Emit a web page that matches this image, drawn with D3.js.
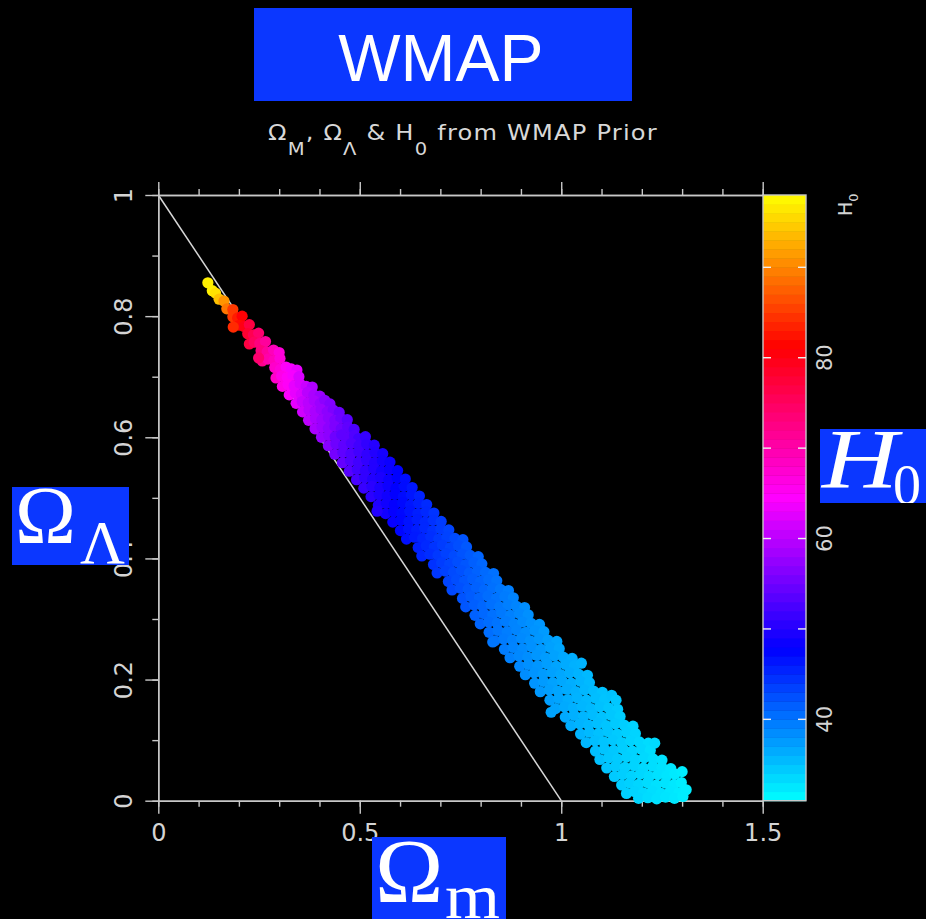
<!DOCTYPE html>
<html>
<head>
<meta charset="utf-8">
<script src="https://cdn.jsdelivr.net/npm/d3@7"></script>
<style>
  html, body { margin: 0; padding: 0; background: #000; }
  svg { display: block; }
</style>
</head>
<body>
<svg id="chart"></svg>
<script>
// axis ticks
const xMajor = [0, 0.5, 1, 1.5];
const xMinor = [0, 0.1, 0.2, 0.3, 0.4, 0.5, 0.6, 0.7, 0.8, 0.9, 1, 1.1, 1.2, 1.3, 1.4, 1.5];
const yMajor = [0, 0.2, 0.4, 0.6, 0.8, 1];
const yMinor = [0, 0.1, 0.2, 0.3, 0.4, 0.5, 0.6, 0.7, 0.8, 0.9, 1];

// colour bar
const h0Range = [31, 98];
const h0Labels = [40, 60, 80];
const h0Ticks = [40, 50, 60, 70, 80, 90];
const h0Stops = [31, 47.75, 64.5, 81.25, 98];
const h0Colors = ['#00ffff', '#0000ff', '#ff00ff', '#ff0000', '#ffff00'];

// Omega_M + Omega_L = 1
const flatLine = [[0, 1], [1, 0]];

// [Omega_M, Omega_Lambda, H0]
const samples = [
  [0.123,0.855,97],
  [0.134,0.842,97],[0.142,0.838,96],
  [0.151,0.828,94],[0.163,0.825,91],
  [0.170,0.812,89],[0.185,0.811,85],
  [0.185,0.799,85],[0.197,0.797,83],[0.208,0.800,81],
  [0.201,0.785,82],[0.213,0.783,80],[0.226,0.786,77],
  [0.222,0.771,78],[0.236,0.769,76],[0.249,0.772,74],
  [0.226,0.754,77],[0.238,0.757,75],[0.252,0.755,73],[0.266,0.758,71],
  [0.255,0.743,73],[0.270,0.741,71],[0.286,0.744,69],[0.300,0.740,67],
  [0.258,0.726,72],[0.272,0.729,70],[0.287,0.727,69],[0.302,0.730,67],
  [0.289,0.715,68],[0.303,0.712,67],[0.317,0.716,65],[0.330,0.713,64],[0.344,0.711,63],
  [0.292,0.698,68],[0.306,0.701,66],[0.320,0.699,65],[0.334,0.702,64],[0.349,0.700,62],
  [0.308,0.684,66],[0.322,0.687,65],[0.337,0.685,63],[0.352,0.688,62],[0.367,0.684,61],[0.382,0.683,59.4],
  [0.325,0.670,64.4],[0.340,0.673,63],[0.355,0.671,62],[0.370,0.674,60],[0.386,0.670,59],[0.401,0.668,58],
  [0.342,0.656,62.8],[0.357,0.659,61],[0.372,0.657,60],[0.387,0.660,59],[0.402,0.656,58],[0.413,0.661,57],[0.426,0.655,56.3],
  [0.358,0.642,61.4],[0.374,0.645,60],[0.389,0.643,59],[0.404,0.646,58],[0.419,0.642,57],[0.434,0.645,56],[0.449,0.641,54.8],
  [0.373,0.628,60.2],[0.390,0.631,59],[0.406,0.629,58],[0.422,0.632,57],[0.438,0.628,56],[0.453,0.631,55],[0.469,0.629,53.6],
  [0.389,0.614,58.9],[0.406,0.617,58],[0.422,0.615,57],[0.438,0.618,56],[0.454,0.614,55],[0.470,0.617,54],[0.486,0.613,52.7],
  [0.405,0.600,57.7],[0.423,0.603,57],[0.439,0.601,55],[0.455,0.604,54],[0.471,0.600,54],[0.487,0.603,53],[0.497,0.598,52],[0.514,0.601,51.2],
  [0.422,0.586,56.6],[0.441,0.589,55],[0.460,0.587,54],[0.479,0.590,53],[0.498,0.586,52],[0.517,0.589,51],[0.536,0.587,50.2],
  [0.438,0.572,55.5],[0.458,0.575,54],[0.478,0.573,53],[0.498,0.576,52],[0.518,0.572,51],[0.538,0.575,50],[0.557,0.573,49.2],
  [0.457,0.558,54.3],[0.477,0.561,53],[0.497,0.559,52],[0.517,0.562,51],[0.537,0.558,50],[0.556,0.561,49],[0.575,0.559,48.5],
  [0.474,0.544,53.4],[0.494,0.547,52],[0.514,0.545,51],[0.534,0.548,50],[0.554,0.544,49],[0.574,0.547,48.5],[0.594,0.545,47.7],
  [0.492,0.530,52.4],[0.512,0.533,51],[0.532,0.531,50],[0.552,0.534,49.5],[0.572,0.530,48.6],[0.593,0.533,47.7],[0.613,0.531,46.9],
  [0.510,0.516,51.4],[0.530,0.519,50.5],[0.550,0.517,49.5],[0.570,0.520,48.7],[0.590,0.516,47.8],[0.610,0.519,47],[0.630,0.517,46.3],
  [0.528,0.502,50.6],[0.548,0.505,49.6],[0.568,0.503,48.8],[0.588,0.506,47.9],[0.608,0.502,47.1],[0.628,0.505,46.4],[0.648,0.503,45.6],
  [0.546,0.488,49.7],[0.566,0.491,48.8],[0.586,0.489,48],[0.606,0.492,47.2],[0.626,0.488,46.4],[0.646,0.491,45.7],[0.666,0.489,45],
  [0.564,0.474,48.9],[0.584,0.477,48.1],[0.604,0.475,47.3],[0.624,0.478,46.5],[0.644,0.474,45.8],[0.664,0.477,45.1],[0.684,0.475,44.4],
  [0.582,0.460,48.2],[0.602,0.463,47.4],[0.622,0.461,46.6],[0.642,0.464,45.9],[0.662,0.460,45.2],[0.682,0.463,44.5],[0.702,0.461,43.9],
  [0.601,0.446,47.4],[0.621,0.449,46.6],[0.641,0.447,45.9],[0.661,0.450,45.2],[0.681,0.446,44.5],[0.701,0.449,43.9],[0.721,0.447,43.3],
  [0.616,0.432,46.8],[0.636,0.435,46.1],[0.656,0.433,45.4],[0.676,0.436,44.7],[0.696,0.432,44],[0.716,0.435,43.4],[0.736,0.433,42.8],[0.756,0.431,42.3],
  [0.645,0.418,45.7],[0.665,0.421,45.1],[0.685,0.419,44.4],[0.705,0.422,43.8],[0.725,0.418,43.2],[0.745,0.421,42.6],[0.765,0.419,42],
  [0.654,0.404,45.4],[0.674,0.407,44.8],[0.694,0.405,44.1],[0.714,0.408,43.5],[0.734,0.404,42.9],[0.754,0.407,42.3],[0.774,0.405,41.8],[0.794,0.403,41.2],
  [0.683,0.390,44.5],[0.703,0.393,43.8],[0.723,0.391,43.2],[0.743,0.394,42.6],[0.763,0.390,42.1],[0.783,0.393,41.5],[0.803,0.391,41],
  [0.692,0.376,44.2],[0.712,0.379,43.5],[0.732,0.377,42.9],[0.752,0.380,42.4],[0.772,0.376,41.8],[0.792,0.379,41.3],[0.812,0.377,40.8],[0.832,0.375,40.3],
  [0.720,0.362,43.3],[0.740,0.365,42.7],[0.760,0.363,42.1],[0.780,0.366,41.6],[0.800,0.362,41.1],[0.820,0.365,40.6],[0.840,0.363,40.1],
  [0.729,0.348,43],[0.749,0.351,42.5],[0.769,0.349,41.9],[0.789,0.352,41.4],[0.809,0.348,40.9],[0.829,0.351,40.4],[0.849,0.349,39.9],[0.869,0.347,39.4],
  [0.755,0.334,42.3],[0.776,0.337,41.7],[0.797,0.335,41.2],[0.818,0.338,40.6],[0.839,0.334,40.1],[0.860,0.337,39.6],[0.881,0.335,39.1],
  [0.763,0.320,42.1],[0.784,0.323,41.5],[0.805,0.321,41],[0.826,0.324,40.4],[0.847,0.320,39.9],[0.868,0.323,39.4],[0.889,0.321,39],[0.909,0.319,38.5],
  [0.786,0.306,41.4],[0.808,0.309,40.9],[0.830,0.307,40.3],[0.852,0.310,39.8],[0.874,0.306,39.3],[0.896,0.309,38.8],[0.918,0.307,38.3],
  [0.799,0.292,41.1],[0.820,0.295,40.6],[0.841,0.293,40.1],[0.862,0.296,39.6],[0.883,0.292,39.1],[0.904,0.295,38.6],[0.925,0.293,38.2],[0.946,0.291,37.8],
  [0.821,0.278,40.5],[0.843,0.281,40],[0.866,0.279,39.5],[0.889,0.282,39],[0.912,0.278,38.5],[0.935,0.281,38],[0.957,0.279,37.6],
  [0.835,0.264,40.2],[0.857,0.267,39.7],[0.879,0.265,39.2],[0.901,0.268,38.7],[0.923,0.264,38.2],[0.945,0.267,37.8],[0.967,0.265,37.4],[0.989,0.263,36.9],
  [0.859,0.250,39.6],[0.881,0.253,39.1],[0.904,0.251,38.6],[0.927,0.254,38.2],[0.950,0.250,37.7],[0.973,0.253,37.2],[0.995,0.251,36.8],
  [0.873,0.236,39.3],[0.895,0.239,38.8],[0.917,0.237,38.4],[0.939,0.240,37.9],[0.961,0.236,37.5],[0.983,0.239,37.1],[1.005,0.237,36.7],[1.027,0.235,36.3],
  [0.897,0.222,38.8],[0.919,0.225,38.3],[0.942,0.223,37.9],[0.965,0.226,37.4],[0.988,0.222,37],[1.011,0.225,36.5],[1.033,0.223,36.1],
  [0.911,0.208,38.5],[0.933,0.211,38],[0.955,0.209,37.6],[0.977,0.212,37.2],[0.999,0.208,36.8],[1.021,0.211,36.4],[1.043,0.209,36],[1.065,0.207,35.6],
  [0.934,0.194,38],[0.956,0.197,37.6],[0.979,0.195,37.1],[1.002,0.198,36.7],[1.025,0.194,36.3],[1.048,0.197,35.9],[1.070,0.195,35.5],
  [0.948,0.180,37.7],[0.970,0.183,37.3],[0.992,0.181,36.9],[1.014,0.184,36.5],[1.036,0.180,36.1],[1.058,0.183,35.7],[1.080,0.181,35.4],[1.102,0.179,35],
  [0.972,0.166,37.3],[0.994,0.169,36.9],[1.017,0.167,36.4],[1.040,0.170,36],[1.063,0.166,35.6],[1.086,0.169,35.3],[1.108,0.167,34.9],
  [0.986,0.152,37],[1.008,0.155,36.6],[1.030,0.153,36.2],[1.052,0.156,35.8],[1.074,0.152,35.5],[1.096,0.155,35.1],[1.118,0.153,34.7],[1.140,0.151,34.4],
  [1.010,0.138,36.6],[1.032,0.141,36.2],[1.055,0.139,35.8],[1.078,0.142,35.4],[1.101,0.138,35],[1.124,0.141,34.7],[1.146,0.139,34.3],
  [1.024,0.124,36.3],[1.046,0.127,35.9],[1.068,0.125,35.6],[1.090,0.128,35.2],[1.112,0.124,34.8],[1.134,0.127,34.5],[1.156,0.125,34.2],[1.178,0.123,33.9],
  [1.048,0.110,35.9],[1.070,0.113,35.5],[1.093,0.111,35.1],[1.116,0.114,34.8],[1.139,0.110,34.4],[1.162,0.113,34.1],[1.184,0.111,33.8],
  [1.062,0.096,35.7],[1.084,0.099,35.3],[1.106,0.097,34.9],[1.128,0.100,34.6],[1.150,0.096,34.3],[1.172,0.099,33.9],[1.194,0.097,33.6],[1.216,0.095,33.3],
  [1.085,0.082,35.3],[1.107,0.085,34.9],[1.130,0.083,34.6],[1.153,0.086,34.2],[1.176,0.082,33.9],[1.199,0.085,33.6],[1.221,0.083,33.2],
  [1.096,0.068,35.1],[1.118,0.071,34.7],[1.140,0.069,34.4],[1.162,0.072,34.1],[1.184,0.068,33.8],[1.206,0.071,33.5],[1.228,0.069,33.2],[1.250,0.067,32.9],
  [1.113,0.054,34.8],[1.135,0.057,34.5],[1.158,0.055,34.1],[1.181,0.058,33.8],[1.204,0.054,33.5],[1.227,0.057,33.2],[1.250,0.055,32.9],[1.272,0.053,32.6],
  [1.132,0.040,34.5],[1.152,0.043,34.2],[1.174,0.041,33.9],[1.196,0.044,33.6],[1.218,0.040,33.3],[1.240,0.043,33],[1.262,0.041,32.7],[1.282,0.044,32.4],
  [1.150,0.026,34.3],[1.170,0.029,34],[1.192,0.027,33.7],[1.214,0.030,33.3],[1.236,0.026,33],[1.258,0.029,32.8],[1.280,0.027,32.5],[1.298,0.030,32.2],
  [1.162,0.012,34.1],[1.182,0.015,33.8],[1.204,0.013,33.5],[1.226,0.016,33.2],[1.248,0.012,32.9],[1.270,0.015,32.6],[1.292,0.013,32.3],[1.310,0.018,32.1],
  [1.192,0.004,33.7],[1.215,0.005,33.3],[1.237,0.003,33],[1.259,0.006,32.7],[1.281,0.004,32.5],[1.302,0.007,32.2],
  // stray points off the main ridge
  [0.186,0.782,84],[0.249,0.731,74],[0.543,0.478,50],[0.830,0.262,40],[0.975,0.146,37],
  [1.050,0.227,36],[1.125,0.174,35],[1.136,0.166,34.7],[1.232,0.095,33.4],[1.300,0.048,32.2]
];

const W = 926, H = 919;
const svg = d3.select('#chart').attr('width', W).attr('height', H);
svg.append('rect').attr('width', W).attr('height', H).attr('fill', '#000');

const x = d3.scaleLinear().domain([0, 1.5]).range([158.3, 762.7]);
const y = d3.scaleLinear().domain([0, 1]).range([800.7, 195]);
const cy = d3.scaleLinear().domain(h0Range).range([800.7, 195]);
const color = d3.scaleLinear().domain(h0Stops).range(h0Colors).clamp(true);

const axisColor = '#c8c8c8';
const labelFont = '"DejaVu Sans", sans-serif';

function styleAxis(g) {
    g.selectAll('path.domain').attr('stroke', axisColor).attr('stroke-width', 1.4);
    g.selectAll('.tick line').attr('stroke', axisColor).attr('stroke-width', 1.4);
    g.selectAll('text').attr('fill', '#d4d4d4').style('font-family', labelFont).style('font-size', '24px');
}

// flat-universe line, under the points
svg.append('path')
    .datum(flatLine)
    .attr('d', d3.line().x(d => x(d[0])).y(d => y(d[1])))
    .attr('stroke', '#d8d8d8')
    .attr('stroke-width', 1.5)
    .attr('fill', 'none');

// bottom axis
svg.append('g').attr('transform', `translate(0,${y(0)})`)
    .call(d3.axisBottom(x).tickValues(xMinor).tickSize(6).tickSizeOuter(0).tickFormat(''))
    .call(styleAxis);
svg.append('g').attr('transform', `translate(0,${y(0)})`)
    .call(d3.axisBottom(x).tickValues(xMajor).tickSize(13).tickSizeOuter(0).tickPadding(10).tickFormat(d3.format('~g')))
    .call(styleAxis);

// top axis
svg.append('g').attr('transform', `translate(0,${y(1)})`)
    .call(d3.axisTop(x).tickValues(xMinor).tickSize(6).tickSizeOuter(0).tickFormat(''))
    .call(styleAxis);
svg.append('g').attr('transform', `translate(0,${y(1)})`)
    .call(d3.axisTop(x).tickValues(xMajor).tickSize(13).tickSizeOuter(0).tickFormat(''))
    .call(styleAxis);

// left axis, labels turned to read upwards
svg.append('g').attr('transform', `translate(${x(0)},0)`)
    .call(d3.axisLeft(y).tickValues(yMinor).tickSize(6).tickSizeOuter(0).tickFormat(''))
    .call(styleAxis);
svg.append('g').attr('transform', `translate(${x(0)},0)`)
    .call(d3.axisLeft(y).tickValues(yMajor).tickSize(13).tickSizeOuter(0).tickFormat(d3.format('~g')))
    .call(styleAxis)
    .call(g => g.selectAll('text')
        .attr('x', 0).attr('dy', null)
        .attr('text-anchor', 'middle')
        .attr('transform', 'translate(-26,0) rotate(-90)'));

// the samples
svg.append('g')
    .selectAll('circle')
    .data(samples)
    .enter()
    .append('circle')
    .attr('cx', d => x(d[0]))
    .attr('cy', d => y(d[1]))
    .attr('r', 5.6)
    .attr('fill', d => color(d[2]));

// colour bar
const barX = 763, barW = 43;
const steps = d3.range(h0Range[0], h0Range[1], 1);
svg.append('g')
    .selectAll('rect')
    .data(steps)
    .enter()
    .append('rect')
    .attr('x', barX)
    .attr('width', barW)
    .attr('y', d => cy(Math.min(d + 1, h0Range[1])))
    .attr('height', d => cy(d) - cy(Math.min(d + 1, h0Range[1])) + 0.5)
    .attr('fill', d => color(d + 0.5));
svg.append('rect')
    .attr('x', barX).attr('y', cy(h0Range[1]))
    .attr('width', barW).attr('height', cy(h0Range[0]) - cy(h0Range[1]))
    .attr('fill', 'none').attr('stroke', axisColor).attr('stroke-width', 1.4);

const barTicks = svg.append('g');
h0Ticks.forEach(v => {
    barTicks.append('line').attr('x1', barX).attr('x2', barX + 8).attr('y1', cy(v)).attr('y2', cy(v))
        .attr('stroke', '#eee').attr('stroke-width', 1.4);
    barTicks.append('line').attr('x1', barX + barW - 8).attr('x2', barX + barW).attr('y1', cy(v)).attr('y2', cy(v))
        .attr('stroke', '#eee').attr('stroke-width', 1.4);
});
svg.append('g')
    .selectAll('text')
    .data(h0Labels)
    .enter()
    .append('text')
    .attr('transform', d => `translate(832,${cy(d)}) rotate(-90)`)
    .attr('text-anchor', 'middle')
    .attr('fill', '#d4d4d4')
    .style('font-family', labelFont)
    .style('font-size', '21px')
    .text(d => d);

const barTitle = svg.append('text')
    .attr('transform', 'translate(852,216) rotate(-90)')
    .attr('fill', '#d4d4d4')
    .style('font-family', labelFont)
    .style('font-size', '19px');
barTitle.append('tspan').text('H');
barTitle.append('tspan').attr('dy', 6).style('font-size', '13px').text('0');

// subtitle, stretched a little to mimic the wide plotting font
const sub = svg.append('text')
    .attr('transform', 'translate(268,140) scale(1.15,1)')
    .attr('textLength', 338)
    .attr('lengthAdjust', 'spacing')
    .attr('fill', '#d8d8d8')
    .style('font-family', labelFont)
    .style('font-size', '21px');
sub.append('tspan').text('\u03A9');
sub.append('tspan').attr('dy', 15).style('font-size', '17px').text('M');
sub.append('tspan').attr('dy', -15).text(', \u03A9');
sub.append('tspan').attr('dy', 15).style('font-size', '17px').text('\u039B');
sub.append('tspan').attr('dy', -15).text(' & H');
sub.append('tspan').attr('dy', 15).style('font-size', '17px').text('0');
sub.append('tspan').attr('dy', -15).text(' from WMAP Prior');

// blue label boxes pasted over the plot
const boxBlue = '#0b37ff';
const serif = '"Liberation Serif", "DejaVu Serif", serif';

function labelBox(id, bx, by, bw, bh) {
    svg.append('clipPath').attr('id', id)
        .append('rect').attr('x', bx).attr('y', by).attr('width', bw).attr('height', bh);
    const g = svg.append('g').attr('clip-path', `url(#${id})`);
    g.append('rect').attr('x', bx).attr('y', by).attr('width', bw).attr('height', bh).attr('fill', boxBlue);
    return g;
}

labelBox('clip-wmap', 254, 8, 378, 93)
    .append('text')
    .attr('x', 441).attr('y', 81)
    .attr('text-anchor', 'middle')
    .attr('fill', '#fff')
    .style('font-family', '"Liberation Sans", Arial, sans-serif')
    .style('font-size', '66px')
    .text('WMAP');

const bL = labelBox('clip-ol', 12, 487, 117, 78);
bL.append('text').attr('x', 15).attr('y', 543).attr('fill', '#fff')
    .style('font-family', serif).style('font-size', '82px').text('\u03A9');
bL.append('text').attr('x', 80).attr('y', 563).attr('fill', '#fff')
    .style('font-family', serif).style('font-size', '62px').text('\u039B');

const bM = labelBox('clip-om', 372, 837, 134, 82);
bM.append('text').attr('x', 375).attr('y', 902).attr('fill', '#fff')
    .style('font-family', serif).style('font-size', '92px').text('\u03A9');
bM.append('text').attr('x', 445).attr('y', 918).attr('fill', '#fff')
    .attr('textLength', 55).attr('lengthAdjust', 'spacingAndGlyphs')
    .style('font-family', serif).style('font-size', '64px').text('m');

const bH = labelBox('clip-h0', 820, 429, 106, 74);
bH.append('text').attr('x', 822).attr('y', 488).attr('fill', '#fff')
    .attr('textLength', 76).attr('lengthAdjust', 'spacingAndGlyphs')
    .style('font-family', serif).style('font-style', 'italic').style('font-size', '84px').text('H');
bH.append('text').attr('x', 893).attr('y', 504).attr('fill', '#fff')
    .style('font-family', serif).style('font-size', '56px').text('0');
</script>
</body>
</html>
